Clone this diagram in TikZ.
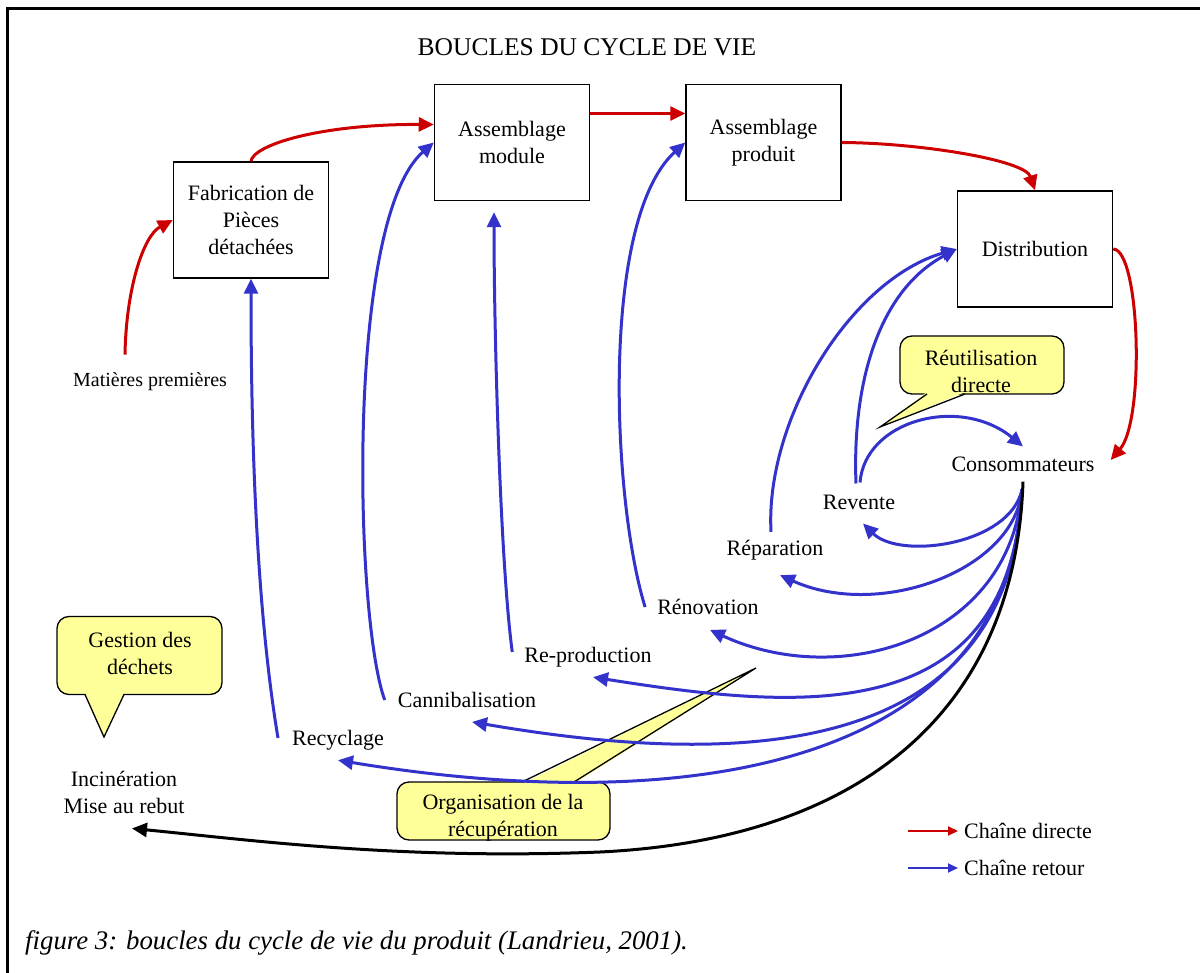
\documentclass[tikz,border=0pt]{standalone}
\usepackage{fontspec}
\setmainfont{Liberation Serif}
\usetikzlibrary{
  arrows.meta,
  positioning,
  calc,
  backgrounds
}
\definecolor{DirRed}{RGB}{204,0,0}
\definecolor{RetBlue}{RGB}{51,51,204}
\definecolor{BulleYellow}{RGB}{255,255,153}
\tikzset{
  etape/.style={draw,line width=1.5pt,minimum width=155pt,minimum height=116pt,align=center,font=\fontsize{22}{27}\selectfont},
  etiq/.style={inner sep=2pt,align=center,font=\fontsize{22}{27}\selectfont},
  bulle/.style={draw,line width=1.3pt,fill=BulleYellow,rounded corners=12pt},
  pointe/.style={line width=1.3pt,line join=miter},
  direct/.style={-{Triangle[length=15pt,width=14pt]},line width=3pt,draw=DirRed},
  retour/.style={-{Triangle[length=15pt,width=14pt]},line width=3pt,draw=RetBlue},
  rebut/.style={-{Triangle[length=15pt,width=14pt]},line width=3pt,draw=black},
  legfleche/.style={-{Triangle[length=10pt,width=9pt]},line width=2pt,shorten >=4pt}
}

\begin{document}
\begin{tikzpicture}[x=1pt,y=-1pt]
\useasboundingbox (0,0) rectangle (1200,973);
\draw[line width=3pt] (7.5,973) -- (7.5,9) -- (1200,9);
\node[font=\fontsize{25.5}{30}\selectfont] (titre) at (587,47) {BOUCLES DU CYCLE DE VIE};
% etapes de la chaine directe
\node[etape] (fab) at (251,220) {Fabrication de\\Pièces\\détachées};
\node[etape] (am) at (512,142.5) {Assemblage\\module};
\node[etape, right=95pt of am] (ap) {Assemblage\\produit};
\node[etape] (dist) at (1035,249) {Distribution};
\node[etiq, font=\fontsize{20}{24}\selectfont] (mp) at (150,382) {Matières premières};
\node[etiq] (cons) at (1023,464) {Consommateurs};
% boucles de retour
\node[etiq] (rev) at (859,502) {Revente};
\node[etiq] (repar) at (775,550) {Réparation};
\node[etiq] (renov) at (708,607) {Rénovation};
\node[etiq] (reprod) at (588,657) {Re-production};
\node[etiq] (canni) at (467,700) {Cannibalisation};
\node[etiq] (recyc) at (338,740) {Recyclage};
\node[etiq] (incin) at (124,792) {Incinération\\Mise au rebut};
% bulles
\node[etiq] (reutil) at (981,371) {Réutilisation\\directe};
\node[etiq] (orga) at (503,818) {Organisation de la\\récupération};
\node[etiq] (gestion) at (140,653.5) {Gestion des\\déchets};
\coordinate (reutiltip) at (880,427);
\coordinate (orgatip) at (756,668);
\coordinate (gestiontip) at (104,737);
\begin{scope}[on background layer]
\draw[bulle] ($(reutil)+(-81,-35)$) rectangle ($(reutil)+(83,23)$);
\fill[BulleYellow] ($(reutil)+(-54,21)$) -- (reutiltip) -- ($(reutil)+(-16,21)$) -- cycle;
\draw[pointe] ($(reutil)+(-54,23)$) -- (reutiltip) -- ($(reutil)+(-16,23)$);
\draw[bulle] ($(orga)+(-106,-36)$) rectangle ($(orga)+(107,22)$);
\fill[BulleYellow] ($(orga)+(19,-34)$) -- (orgatip) -- ($(orga)+(71,-34)$) -- cycle;
\draw[pointe] ($(orga)+(19,-36)$) -- (orgatip) -- ($(orga)+(71,-36)$);
\draw[bulle] ($(gestion)+(-83,-37)$) rectangle ($(gestion)+(82,41)$);
\fill[BulleYellow] ($(gestion)+(-55,39)$) -- (gestiontip) -- ($(gestion)+(-16,39)$) -- cycle;
\draw[pointe] ($(gestion)+(-55,41)$) -- (gestiontip) -- ($(gestion)+(-16,41)$);
\end{scope}
% chaine directe
\draw[direct] ($(mp.north)+(-25,-16)$) .. controls (126,290) and (143,236) .. (fab.west);
\draw[direct] (fab.north) .. controls (253,145) and (320,124) .. ($(am.west)+(0,-18)$);
\draw[direct] ($(am.east)+(0,-29)$) -- ($(ap.west)+(0,-29)$);
\draw[direct] (ap.east) .. controls (920,143) and (1025,160) .. (dist.north);
\draw[direct] (dist.east) .. controls (1140,250) and (1145,420) .. ($(cons.east)+(14,-4)$);
% chaine retour
\draw[retour] ($(cons.south)+(-1,16)$) .. controls (1010,545) and (900,560) .. ($(rev.south)+(4,12)$);
\draw[retour] ($(cons.south)+(-1,16)$) .. controls (1015,570) and (880,620) .. ($(repar.south)+(5,13)$);
\draw[retour] ($(cons.south)+(-1,16)$) .. controls (1010,640) and (840,690) .. ($(renov.south)+(2,13)$);
\draw[retour] ($(cons.south)+(-1,16)$) .. controls (1010,730) and (800,710) .. ($(reprod.south)+(5,8)$);
\draw[retour] ($(cons.south)+(-1,16)$) .. controls (1012,740) and (780,775) .. ($(canni.south)+(5,12)$);
\draw[retour] ($(cons.south)+(-1,16)$) .. controls (1012,760) and (700,820) .. ($(recyc.south)+(0,8)$);
\coordinate (rebutvia) at (600,852);
\draw[rebut] ($(cons.south)+(0,8)$) .. controls (1015,720) and (850,840) .. (rebutvia) .. controls (400,860) and (250,840) .. ($(incin.south)+(8,13)$);
\draw[retour] ($(recyc.west)+(-12,-2)$) .. controls (255,600) and (251,420) .. (fab.south);
\draw[retour] ($(canni.west)+(-11,0)$) .. controls (355,620) and (345,220) .. (am.west);
\draw[retour] ($(reprod.west)+(-10,-5)$) .. controls (500,560) and (494,330) .. ($(am.south)+(-18,11)$);
\draw[retour] ($(renov.west)+(-10,0)$) .. controls (612,500) and (600,220) .. (ap.west);
\draw[retour] ($(repar.north)+(-4,-6)$) .. controls (765,420) and (850,280) .. (dist.west);
\draw[retour] ($(rev.north)+(-3,-9)$) .. controls (852,380) and (880,290) .. (dist.west);
\draw[retour] ($(rev.north)+(1,-10)$) .. controls (865,420) and (960,395) .. ($(cons.north)+(0,-8)$);
% legende
\node[etiq, anchor=west] (legd) at (962,831) {Chaîne directe};
\node[etiq, anchor=west] (legr) at (962,868) {Chaîne retour};
\coordinate (legdfrom) at (908,831);
\coordinate (legrfrom) at (908,868);
\draw[legfleche, draw=DirRed] (legdfrom) -- (legd.west);
\draw[legfleche, draw=RetBlue] (legrfrom) -- (legr.west);
\node[anchor=west, inner sep=0pt, font=\fontsize{26.8}{30}\selectfont\itshape] (figlegende) at (25,943) {figure 3: boucles du cycle de vie du produit (Landrieu, 2001).};
\end{tikzpicture}
\end{document}
